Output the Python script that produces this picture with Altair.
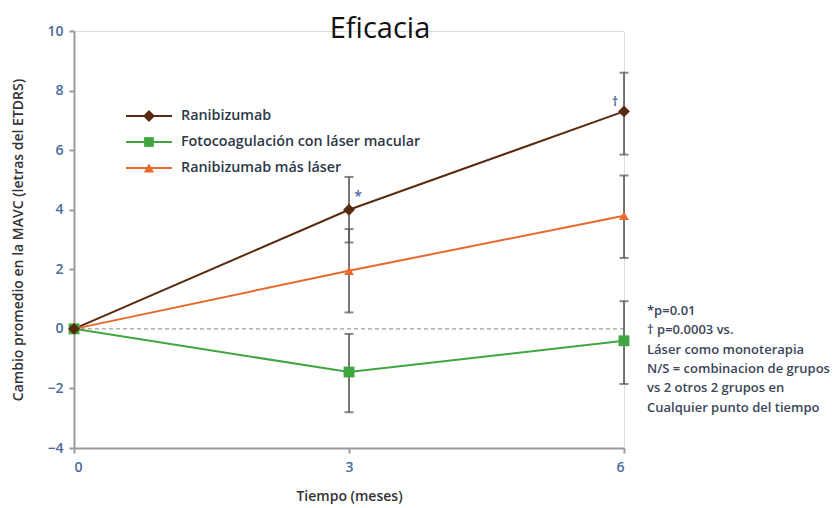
import altair as alt
import pandas as pd

# --- values -------------------------------------------------------------
meses = [0, 3, 6]
series = ["Ranibizumab", "Fotocoagulación con láser macular", "Ranibizumab más láser"]

ranibizumab = [0.0, 4.0, 7.3]
ranibizumab_inf = [None, 2.9, 5.85]
ranibizumab_sup = [None, 5.1, 8.6]

laser = [0.0, -1.45, -0.4]
laser_inf = [None, -2.8, -1.85]
laser_sup = [None, -0.17, 0.93]

combinado = [0.0, 1.95, 3.8]
combinado_inf = [None, 0.55, 2.38]
combinado_sup = [None, 3.35, 5.15]

y_ticks = [-4, -2, 0, 2, 4, 6, 8, 10]
x_ticks = [0, 3, 6]

notas = [
    "*p=0.01",
    "† p=0.0003 vs.",
    "Láser como monoterapia",
    "N/S = combinacion de grupos",
    "vs 2 otros 2 grupos en",
    "Cualquier punto del tiempo",
]

# --- styling ------------------------------------------------------------
colores = ["#5a2a0f", "#41a641", "#e8692c"]
formas = ["diamond", "square", "triangle-up"]
tamanos = [140, 95, 105]
FONT = "Open Sans"
TICK_COLOR = "#4a6a9c"
AXIS_COLOR = "#9a9a9a"
TEXT_COLOR = "#333333"

# legend layout (pixels inside the plot area)
LEY_X0, LEY_X1, LEY_MARCA, LEY_TEXTO = 52, 98, 75, 107
LEY_Y0, LEY_PASO = 85, 26

rows = []
for nombre, vals, inf, sup in [
    (series[0], ranibizumab, ranibizumab_inf, ranibizumab_sup),
    (series[1], laser, laser_inf, laser_sup),
    (series[2], combinado, combinado_inf, combinado_sup),
]:
    for m, v, lo, hi in zip(meses, vals, inf, sup):
        rows.append({"serie": nombre, "mes": m, "valor": v, "inf": lo, "sup": hi})
df = pd.DataFrame(rows)
# markers drawn with Ranibizumab last so it sits on top at month 0
df_puntos = pd.concat([df[df.serie == s] for s in reversed(series)])
df_err = df.dropna(subset=["inf"])
uno = pd.DataFrame({"n": [0]})

x_enc = alt.X(
    "mes:Q",
    scale=alt.Scale(domain=[0, 6], nice=False, zero=False),
    axis=alt.Axis(
        values=x_ticks, format="d", grid=False,
        domainColor=AXIS_COLOR, domainWidth=2, tickColor=AXIS_COLOR, tickWidth=2,
        tickSize=5, labelColor=TICK_COLOR, labelFont=FONT, labelFontSize=14,
        labelPadding=7, labelFontWeight=600,
        title="Tiempo (meses)", titleFont=FONT, titleFontSize=14,
        titleFontWeight=600, titleColor=TEXT_COLOR, titlePadding=15,
    ),
)
y_scale = alt.Scale(domain=[-4, 10], nice=False, zero=False)
y_enc = alt.Y(
    "valor:Q",
    scale=y_scale,
    axis=alt.Axis(
        values=y_ticks, grid=False,
        domainColor=AXIS_COLOR, domainWidth=2, tickColor=AXIS_COLOR, tickWidth=2,
        tickSize=5, labelColor=TICK_COLOR, labelFont=FONT, labelFontSize=14,
        labelPadding=6, labelFontWeight=600,
        title="Cambio promedio en la MAVC (letras del ETDRS)", titleFont=FONT,
        titleFontSize=14, titleFontWeight=600, titleColor=TEXT_COLOR,
        titlePadding=21,
    ),
)
color_scale = alt.Scale(domain=series, range=colores)

cero = alt.Chart(uno).mark_rule(color="#888888", strokeDash=[4, 3], strokeWidth=1).encode(
    x=alt.datum(0), x2=alt.datum(6), y=alt.datum(0)
)

lineas = alt.Chart(df).mark_line(strokeWidth=2).encode(
    x=x_enc, y=y_enc, color=alt.Color("serie:N", scale=color_scale, legend=None)
)

barras = alt.Chart(df_err).mark_rule(color="#555555", strokeWidth=1.6).encode(
    x="mes:Q", y=alt.Y("inf:Q", scale=y_scale), y2="sup:Q"
)
tapa_inf = alt.Chart(df_err).mark_tick(
    color="#555555", orient="horizontal", size=9, thickness=2
).encode(x="mes:Q", y=alt.Y("inf:Q", scale=y_scale))
tapa_sup = alt.Chart(df_err).mark_tick(
    color="#555555", orient="horizontal", size=9, thickness=2
).encode(x="mes:Q", y=alt.Y("sup:Q", scale=y_scale))

puntos = alt.Chart(df_puntos).mark_point(filled=True, opacity=1).encode(
    x="mes:Q",
    y=alt.Y("valor:Q", scale=y_scale),
    color=alt.Color("serie:N", scale=color_scale, legend=None),
    shape=alt.Shape("serie:N", scale=alt.Scale(domain=series, range=formas), legend=None),
    size=alt.Size("serie:N", scale=alt.Scale(domain=series, range=tamanos), legend=None),
)

# legend: a short line with the series marker, then the label
capas_leyenda = []
for i, (nombre, color, forma, tam) in enumerate(zip(series, colores, formas, tamanos)):
    fila = pd.DataFrame({"serie": [nombre]})
    y_fila = alt.value(LEY_Y0 + LEY_PASO * i)
    capas_leyenda += [
        alt.Chart(fila).mark_rule(color=color, strokeWidth=2).encode(
            x=alt.value(LEY_X0), x2=alt.value(LEY_X1), y=y_fila
        ),
        alt.Chart(fila).mark_point(
            filled=True, opacity=1, color=color, shape=forma, size=tam
        ).encode(x=alt.value(LEY_MARCA), y=y_fila),
        alt.Chart(fila).mark_text(
            align="left", baseline="middle", font=FONT, fontSize=14.3,
            fontWeight=600, color="#2c3848",
        ).encode(x=alt.value(LEY_TEXTO), y=y_fila, text="serie:N"),
    ]

estrella = alt.Chart(uno).mark_text(
    text="*", color=TICK_COLOR, font=FONT, fontSize=14, fontWeight=600, dx=9, dy=-13
).encode(x=alt.datum(3), y=alt.datum(4.0))
daga = alt.Chart(uno).mark_text(
    text="†", color=TICK_COLOR, font=FONT, fontSize=12, fontWeight=700, dx=-9, dy=-9
).encode(x=alt.datum(6), y=alt.datum(7.3))

texto_notas = alt.Chart(uno).mark_text(
    text="\n".join(notas), lineBreak="\n", align="left", baseline="top",
    font=FONT, fontSize=13, fontWeight=600, color="#3a4658", lineHeight=19.3, dx=23,
).encode(x=alt.datum(6), y=alt.datum(0.8))

chart = (
    alt.layer(cero, lineas, barras, tapa_inf, tapa_sup, puntos, *capas_leyenda,
              estrella, daga, texto_notas)
    .properties(
        width=550,
        height=417,
        autosize=alt.AutoSizeParams(type="none"),
        padding={"left": 74, "top": 31, "right": 211, "bottom": 60},
        title=alt.Title("Eficacia", font=FONT, fontSize=29, fontWeight="normal",
                        color="#111111", anchor="middle", dx=31, offset=-20),
    )
    .configure_view(stroke=None)
    .configure(background="white")
)

chart.save("out.html", embed_options={"renderer": "svg", "actions": False})
